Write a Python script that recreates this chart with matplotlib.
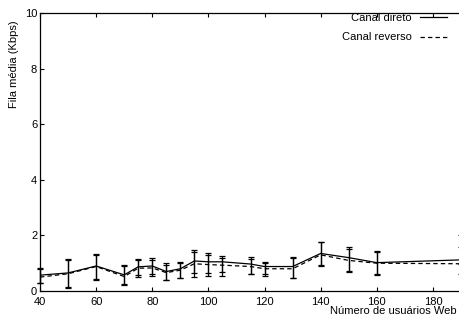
import numpy as np
import matplotlib
matplotlib.use("Agg")
import matplotlib.pyplot as plt

# Número de usuários Web
usuarios = [40, 50, 60, 70, 75, 80, 85, 90, 95, 100, 105, 115, 120, 130, 140, 150, 160, 190]

# Fila média (Kbps) - canal direto
direto = [0.57, 0.65, 0.90, 0.58, 0.87, 0.90, 0.70, 0.80, 1.08, 1.05, 1.05, 0.97, 0.88, 0.88, 1.35, 1.20, 1.02, 1.12]
direto_lo = [0.30, 0.12, 0.43, 0.25, 0.58, 0.62, 0.38, 0.48, 0.65, 0.65, 0.67, 0.62, 0.62, 0.48, 0.93, 0.73, 0.60, 0.97]
direto_hi = [0.83, 1.15, 1.33, 0.95, 1.15, 1.20, 1.00, 1.05, 1.47, 1.38, 1.25, 1.23, 1.05, 1.23, 1.78, 1.58, 1.45, 2.00]

# Fila média (Kbps) - canal reverso
reverso = [0.50, 0.62, 0.88, 0.52, 0.82, 0.83, 0.66, 0.75, 0.98, 0.95, 0.93, 0.88, 0.80, 0.80, 1.30, 1.10, 1.00, 0.98]
reverso_lo = [0.27, 0.15, 0.40, 0.22, 0.50, 0.55, 0.40, 0.45, 0.50, 0.55, 0.55, 0.60, 0.55, 0.45, 0.90, 0.70, 0.58, 0.60]
reverso_hi = [0.78, 1.10, 1.30, 0.90, 1.10, 1.10, 0.95, 1.00, 1.40, 1.30, 1.20, 1.15, 1.00, 1.20, 1.75, 1.50, 1.40, 1.60]

xticks = [40, 60, 80, 100, 120, 140, 160, 180]
yticks = [0, 2, 4, 6, 8, 10]

plt.rcParams["font.family"] = ["Liberation Sans", "DejaVu Sans"]
plt.rcParams["font.size"] = 8

W, H = 459, 320
fig = plt.figure(figsize=(W / 100, H / 100), dpi=100)
ax = fig.add_axes([40 / W, 1 - 291 / H, 421 / W, 278 / H])

x = np.array(usuarios)
for y, lo, hi in [
    (direto, direto_lo, direto_hi),
    (reverso, reverso_lo, reverso_hi),
]:
    y = np.array(y)
    err = [y - np.array(lo), np.array(hi) - y]
    ax.errorbar(x, y, yerr=err, fmt="none", ecolor="black", elinewidth=0.9,
                capsize=2.2, capthick=0.9, clip_on=False)

ax.plot(x, direto, color="black", lw=0.9, ls="-", label="Canal direto")
ax.plot(x, reverso, color="black", lw=0.9, ls=(0, (3.5, 2.5)), label="Canal reverso")

ax.set_xlim(40, 190)
ax.set_ylim(0, 10)
ax.set_xticks(xticks)
ax.set_yticks(yticks)
ax.tick_params(direction="in", length=3, width=0.8, top=True, right=False, pad=2)
ax.tick_params(axis="x", pad=4)
for s in ax.spines.values():
    s.set_linewidth(0.9)

ax.set_ylabel("Fila média (Kbps)")
ax.yaxis.set_label_coords(-0.051, 0.975, transform=ax.transAxes)
ax.yaxis.label.set_ha("right")
fig.text(457 / W, 1 - 311 / H, "Número de usuários Web", ha="right", va="center")

leg = ax.legend(loc="upper right", bbox_to_anchor=(447 / W, 1 - 13 / H),
                bbox_transform=fig.transFigure, frameon=False, markerfirst=False,
                handlelength=2.4, handletextpad=0.8, labelspacing=0.85,
                borderaxespad=0, borderpad=0)

fig.savefig("out.png", dpi=100)
